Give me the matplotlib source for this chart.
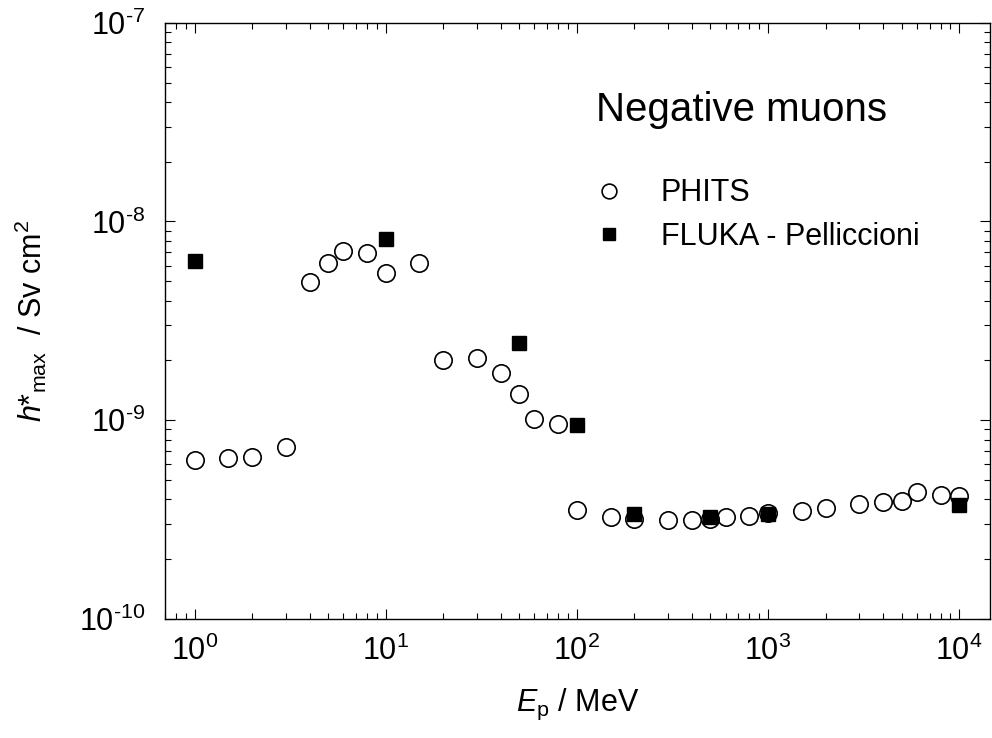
import matplotlib
matplotlib.use("Agg")
import numpy as np
import matplotlib.pyplot as plt
from matplotlib.ticker import LogLocator, NullFormatter, FuncFormatter

plt.rcParams['font.family'] = ['Liberation Sans', 'DejaVu Sans']
plt.rcParams['mathtext.fontset'] = 'custom'
plt.rcParams['mathtext.rm'] = 'Liberation Sans'
plt.rcParams['mathtext.it'] = 'Liberation Sans:italic'
plt.rcParams['mathtext.default'] = 'regular'
plt.rcParams['axes.unicode_minus'] = False

# PHITS (open circles)
phits_E = [1, 1.5, 2, 3, 4, 5, 6, 8, 10, 15, 20, 30, 40, 50, 60, 80,
           100, 150, 200, 300, 400, 500, 600, 800, 1000, 1500, 2000,
           3000, 4000, 5000, 6000, 8000, 10000]
phits_h = [6.31e-10, 6.44e-10, 6.56e-10, 7.37e-10, 4.98e-9, 6.16e-9, 7.13e-9,
           6.96e-9, 5.49e-9, 6.16e-9, 2.01e-9, 2.05e-9, 1.72e-9, 1.35e-9,
           1.02e-9, 9.6e-10, 3.54e-10, 3.27e-10, 3.2e-10, 3.15e-10, 3.15e-10,
           3.2e-10, 3.25e-10, 3.3e-10, 3.4e-10, 3.51e-10, 3.61e-10, 3.79e-10,
           3.89e-10, 3.93e-10, 4.37e-10, 4.21e-10, 4.18e-10]

# FLUKA - Pelliccioni (filled squares)
fluka_E = [1, 10, 50, 100, 200, 500, 1000, 10000]
fluka_h = [6.33e-9, 8.17e-9, 2.44e-9, 9.47e-10, 3.38e-10, 3.27e-10,
           3.38e-10, 3.75e-10]


def pow10(v, pos):
    e = int(round(np.log10(v)))
    return r'$10^{\text{%d}}$' % e


fig = plt.figure(figsize=(9.92, 7.38), dpi=100)
ax = fig.add_axes([0.1663, 0.1612, 0.8317, 0.808])

ax.plot(fluka_E, fluka_h, 's', color='black', markersize=10.5,
        linestyle='none', label='FLUKA - Pelliccioni', zorder=2)
ax.plot(phits_E, phits_h, 'o', markerfacecolor='none', markeredgecolor='black',
        markeredgewidth=1.2, markersize=12.5, linestyle='none',
        label='PHITS', zorder=3)

ax.set_xscale('log')
ax.set_yscale('log')
ax.set_xlim(0.7, 1.45e4)
ax.set_ylim(1e-10, 1e-7)

ax.xaxis.set_major_locator(LogLocator(base=10, numticks=10))
ax.xaxis.set_minor_locator(LogLocator(base=10, subs=range(2, 10), numticks=20))
ax.xaxis.set_major_formatter(FuncFormatter(pow10))
ax.yaxis.set_major_formatter(FuncFormatter(pow10))
ax.xaxis.set_minor_formatter(NullFormatter())
ax.yaxis.set_minor_formatter(NullFormatter())

ax.tick_params(which='both', direction='in', top=True, right=True,
               width=0.8, labelsize=22)
ax.tick_params(which='major', length=7)
ax.tick_params(axis='x', which='major', pad=12)
ax.tick_params(axis='y', which='major', pad=14)
ax.tick_params(which='minor', length=4)
for s in ax.spines.values():
    s.set_linewidth(1.0)

ax.set_xlabel(r'$\it{E}$$_{\rm p}$ / MeV', fontsize=22, labelpad=14)
ax.set_ylabel(r'$\it{h}$*$_{\rm max}$  / Sv cm$^2$', fontsize=22, labelpad=22)

ax.text(0.522, 0.853, 'Negative muons', transform=ax.transAxes,
        fontsize=29, ha='left', va='center')
handles, labels = ax.get_legend_handles_labels()
leg = ax.legend(handles[::-1], labels[::-1], loc='upper left',
                bbox_to_anchor=(0.49, 0.785), frameon=False, fontsize=22,
                markerscale=0.85, handletextpad=1.3, labelspacing=0.45,
                handlelength=0.8)

fig.savefig('out.png', dpi=100)
